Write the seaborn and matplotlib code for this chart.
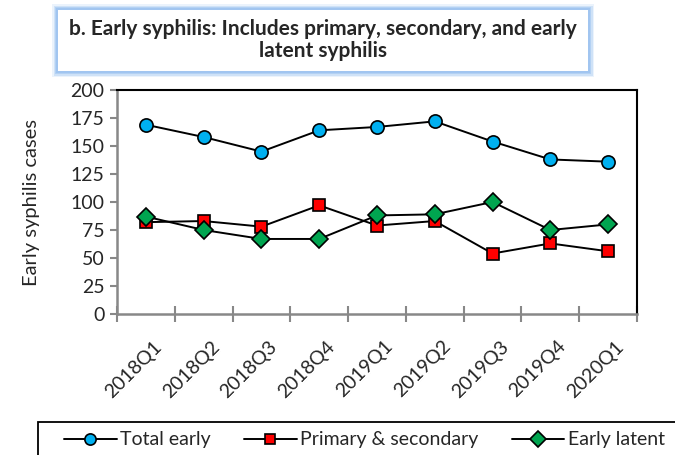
import matplotlib
matplotlib.use('Agg')
import matplotlib.pyplot as plt
import matplotlib.transforms as mtrans
from matplotlib.patches import Rectangle
import numpy as np
import pandas as pd
import seaborn as sns
from matplotlib.ticker import FixedLocator

quarters = ['2018Q1', '2018Q2', '2018Q3', '2018Q4', '2019Q1',
            '2019Q2', '2019Q3', '2019Q4', '2020Q1']
total_early = [169, 158, 145, 164, 167, 172, 154, 138, 136]
primary_secondary = [82, 83, 78, 97, 79, 83, 54, 63, 56]
early_latent = [87, 75, 67, 67, 88, 89, 100, 75, 80]

sns.set_style('white')
plt.rcParams['font.family'] = ['Lato', 'DejaVu Sans']

W, H = 675, 455
fig = plt.figure(figsize=(W / 100, H / 100), dpi=100)
ax = fig.add_axes([117 / W, 1 - 314 / H, 520 / W, 224 / H])

series = [
    (total_early, 'Total early', 'o', '#00B0F0', 9.5),
    (primary_secondary, 'Primary & secondary', 's', '#FF0000', 9),
    (early_latent, 'Early latent', 'D', '#00A550', 9),
]
for vals, name, mk, col, ms in series:
    sns.lineplot(x=quarters, y=vals, ax=ax, sort=False, color='black',
                 linewidth=1.4, marker=mk, markersize=ms,
                 markerfacecolor=col, markeredgecolor='black',
                 markeredgewidth=1.2, label=name)

ax.set_xlim(-0.5, len(quarters) - 0.5)
ax.set_ylim(0, 200)
ax.set_yticks(np.arange(0, 201, 25))
ax.tick_params(axis='y', labelsize=14, length=5, width=1.5, color='#888888',
               direction='out', left=True, pad=4)

# categories sit between tick marks like an Excel category axis
ax.set_xticks(range(len(quarters)))
ax.set_xticklabels(quarters, rotation=45, ha='right', rotation_mode='anchor',
                   fontsize=14)
ax.tick_params(axis='x', which='major', length=0, pad=17)
shift = mtrans.ScaledTranslation(0.07, 0, fig.dpi_scale_trans)
for lab in ax.get_xticklabels():
    lab.set_transform(lab.get_transform() + shift)
ax.xaxis.set_minor_locator(FixedLocator(np.arange(-0.5, len(quarters), 1)))
ax.tick_params(axis='x', which='minor', length=11, width=1.5,
               color='#888888', direction='inout', bottom=True)

for side in ['left', 'bottom']:
    ax.spines[side].set_color('#888888')
    ax.spines[side].set_linewidth(1.8)
for side in ['top', 'right']:
    ax.spines[side].set_color('black')
    ax.spines[side].set_linewidth(1.5)

ax.set_xlabel('')
ax.set_ylabel('Early syphilis cases', fontsize=14.5, labelpad=22)

# legend box, running off the right edge as in the source figure
fig.patches.append(Rectangle((38 / W, -0.05), 700 / W, 0.05 + 33 / H,
                             transform=fig.transFigure, fill=False,
                             edgecolor='black', linewidth=1.3,
                             clip_on=False))
handles, labels = ax.get_legend_handles_labels()
ax.get_legend().remove()
fig.legend(handles, labels, ncol=3, loc='center left',
           bbox_to_anchor=(64 / W, 1 - 440 / H), fontsize=14,
           frameon=False, handlelength=2.7, columnspacing=1.7,
           handletextpad=0.2, borderpad=0, borderaxespad=0,
           markerscale=0.85)

# title box with a soft blue glow
for grow, alpha in [(6, 0.2), (4.5, 0.35), (3, 0.55), (1.5, 0.8)]:
    fig.patches.append(Rectangle(((58 - grow) / W, 1 - (71 + grow) / H),
                                 (530 + 2 * grow) / W, (61 + 2 * grow) / H,
                                 transform=fig.transFigure,
                                 facecolor='#9dc3f0', edgecolor='none',
                                 alpha=alpha))
fig.patches.append(Rectangle((58 / W, 1 - 71 / H), 530 / W, 61 / H,
                             transform=fig.transFigure, facecolor='white',
                             edgecolor='none'))
fig.text(323 / W, 1 - 40 / H,
         'b. Early syphilis: Includes primary, secondary, and early\nlatent syphilis',
         ha='center', va='center', fontsize=15, fontweight='bold',
         linespacing=1.15)

fig.savefig('out.png', dpi=100)
